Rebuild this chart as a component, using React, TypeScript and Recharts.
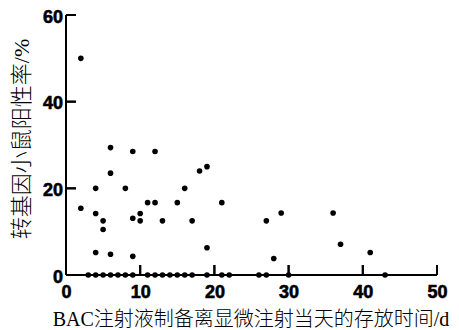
import React from 'react';
import { ScatterChart, Scatter, XAxis, YAxis } from 'recharts';

// Days of storage (x) and positive rate % (y) for non-zero observations
const positiveDays = [2, 2, 4, 4, 4, 5, 5, 6, 6, 6, 8, 9, 9, 9, 10, 10, 11, 12, 12, 13, 15, 16, 17, 18, 19, 19, 21, 27, 28, 29, 36, 37, 41];
const positiveRates = [50, 15.4, 20, 14.2, 5.2, 12.5, 10.5, 29.4, 23.5, 4.8, 20, 28.5, 13.1, 4.3, 14.2, 12.5, 16.7, 28.5, 16.7, 12.5, 16.7, 20, 12.5, 24, 25, 6.3, 16.7, 12.5, 3.8, 14.3, 14.3, 7.1, 5.2];
// Days with a 0% positive rate
const zeroDays = [3, 4, 5, 6, 7, 8, 9, 11, 12, 13, 14, 15, 16, 17, 19, 21, 22, 26, 27, 30, 43];

const xTicks = [0, 10, 20, 30, 40, 50];
const yTicks = [0, 20, 40, 60];
const xLabel = 'BAC注射液制备离显微注射当天的存放时间/d';
const yLabel = '转基因小鼠阳性率/%';

const data = [
  ...positiveDays.map((d, i) => ({ x: d, y: positiveRates[i] })),
  ...zeroDays.map((d) => ({ x: d, y: 0 })),
];

const tickFont = "'Liberation Sans', Arial, sans-serif";
const labelFont = "'Liberation Serif', 'Times New Roman', 'Noto Sans CJK SC', serif";

function renderXTick(props: any) {
  const { x, y, payload } = props;
  return (
    <g>
      <rect x={x - 1} y={y - 10} width={2} height={10} fill="#000" />
      <text x={x + 0.5} y={y + 23} textAnchor="middle" fontFamily={tickFont} fontWeight="bold" fontSize={18} fill="#000" stroke="#000" strokeWidth={0.6} paintOrder="stroke">
        {payload.value}
      </text>
    </g>
  );
}

function renderYTick(props: any) {
  const { x, y, payload } = props;
  return (
    <g>
      <rect x={x} y={y - 1} width={10} height={2} fill="#000" />
      <text x={x - 3} y={y + 7.5} textAnchor="end" fontFamily={tickFont} fontWeight="bold" fontSize={18} fill="#000" stroke="#000" strokeWidth={0.6} paintOrder="stroke">
        {payload.value}
      </text>
    </g>
  );
}

function renderDot(props: any) {
  return <circle cx={props.cx} cy={props.cy} r={2.8} fill="#000" />;
}

export default function App() {
  return (
    <div style={{ position: 'absolute', left: 0, top: 0, width: 459, height: 330, background: '#fff' }}>
      <ScatterChart width={459} height={330} margin={{ top: 15, right: 22, bottom: 25, left: 6 }}>
        <XAxis
          type="number"
          dataKey="x"
          domain={[0, 50]}
          ticks={xTicks}
          interval={0}
          height={30}
          tickLine={{ stroke: '#000', strokeWidth: 2 }}
          tickSize={-10}
          tickMargin={10}
          axisLine={{ stroke: '#000', strokeWidth: 2 }}
          tick={renderXTick}
        />
        <YAxis
          type="number"
          dataKey="y"
          domain={[0, 60]}
          ticks={yTicks}
          interval={0}
          width={60}
          tickLine={{ stroke: '#000', strokeWidth: 2 }}
          tickSize={-10}
          tickMargin={10}
          axisLine={{ stroke: '#000', strokeWidth: 2 }}
          tick={renderYTick}
        />
        <Scatter data={data} fill="#000" shape={renderDot} isAnimationActive={false} />
      </ScatterChart>
      <div
        style={{
          position: 'absolute', left: 46, width: 410, top: 309, height: 20, lineHeight: '20px',
          textAlign: 'center', whiteSpace: 'nowrap', fontFamily: labelFont, fontSize: 20, fontWeight: 300, color: '#000',
        }}
      >
        {xLabel}
      </div>
      <div
        style={{
          position: 'absolute', left: 22 - 130, width: 260, top: 139 - 12, height: 24, lineHeight: '24px',
          textAlign: 'center', whiteSpace: 'nowrap', fontFamily: labelFont, fontSize: 22, fontWeight: 300, color: '#000',
          transform: 'rotate(-90deg)', transformOrigin: '50% 50%',
        }}
      >
        {yLabel}
      </div>
    </div>
  );
}
